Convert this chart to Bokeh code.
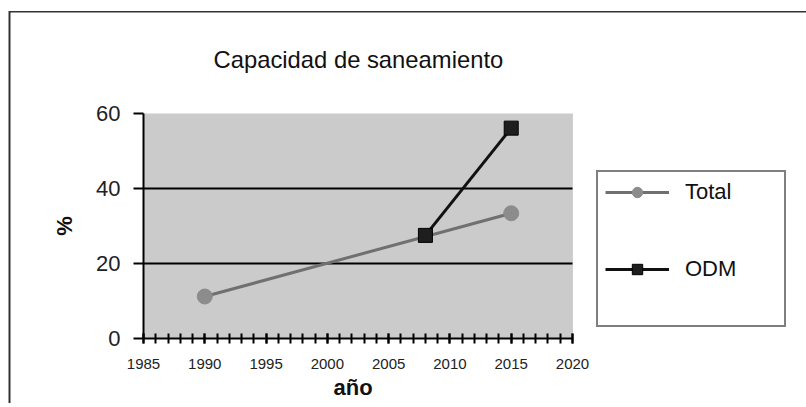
from bokeh.plotting import figure
from bokeh.models import Legend, LegendItem, FixedTicker, Range1d, BoxAnnotation, Title
from bokeh.embed import file_html
from bokeh.resources import INLINE

# ---- data ----
total_years = [1990, 2015]
total_vals = [11.2, 33.4]
odm_years = [2008, 2015]
odm_vals = [27.5, 56.1]
x_major_ticks = [1985, 1990, 1995, 2000, 2005, 2010, 2015, 2020]
x_minor_ticks = list(range(1985, 2021))
y_ticks = [0, 20, 40, 60]
grid_ticks = [20, 40]
title_text = "Capacidad de saneamiento"
x_label = "año"
y_label = "%"

FONT = "Liberation Sans"

X0, X1 = x_major_ticks[0], x_major_ticks[-1]
Y0, Y1 = y_ticks[0], y_ticks[-1]

# frame: 143..792 px wide; data area 1985..2020 occupies 143..572 px
FRAME_L, DATA_R, FRAME_R = 143, 572, 792
x_end = X0 + (FRAME_R - FRAME_L) * (X1 - X0) / (DATA_R - FRAME_L)

H = 403
p = figure(width=806, height=H,
           x_range=Range1d(X0, x_end), y_range=Range1d(Y0, Y1),
           output_backend="svg", toolbar_location=None,
           min_border_left=FRAME_L, min_border_right=806 - FRAME_R,
           min_border_top=113, min_border_bottom=H - 338)

p.background_fill_color = "white"
p.border_fill_alpha = 0
p.outline_line_color = None
# outer frame of the original picture (top and left edges only)
p.styles = {"box-shadow": "inset 8.5px 11px 0 0 #ffffff, inset 10.5px 12.5px 0 0 #333333",
            "background-color": "#ffffff"}

# gray plotting area
area = BoxAnnotation(left=X0, right=X1, bottom=Y0, top=Y1,
                     fill_color="#cbcbcb", fill_alpha=1,
                     line_color="#9a9a9a", line_width=1, level="underlay")
p.add_layout(area)

p.title.text = title_text
p.title.text_font = FONT
p.title.text_font_size = "23.8px"
p.title.text_font_style = "normal"
p.title.text_color = "#111111"
p.title.align = "left"
p.title.offset = 70
p.title.standoff = 82

# x axis
xa = p.xaxis[0]
xa.bounds = (X0, X1)
xa.ticker = FixedTicker(ticks=x_major_ticks, minor_ticks=x_minor_ticks)
xa.axis_line_width = 2
xa.axis_line_color = "black"
xa.major_tick_in = 5
xa.major_tick_out = 5
xa.minor_tick_in = 5
xa.minor_tick_out = 5
xa.major_tick_line_width = 2
xa.minor_tick_line_width = 2
xa.major_tick_line_color = "black"
xa.minor_tick_line_color = "black"
xa.major_label_text_font = FONT
xa.major_label_text_font_size = "15px"
xa.major_label_text_color = "#222222"
xa.major_label_standoff = 15

# x axis title, centred under the data area (not the whole frame)
x_title = Title(text=x_label, align="left", offset=190, standoff=3,
                text_font=FONT, text_font_size="22px", text_font_style="bold",
                text_color="#111111")
p.add_layout(x_title, "below")

# y axis
ya = p.yaxis[0]
ya.ticker = FixedTicker(ticks=y_ticks)
ya.axis_line_width = 2
ya.axis_line_color = "black"
ya.major_tick_in = 0
ya.major_tick_out = 10
ya.minor_tick_in = 0
ya.minor_tick_out = 0
ya.major_tick_line_width = 2
ya.major_tick_line_color = "black"
ya.major_label_text_font = FONT
ya.major_label_text_font_size = "22px"
ya.major_label_text_color = "#222222"
ya.major_label_standoff = 13
ya.axis_label = y_label
ya.axis_label_text_font = FONT
ya.axis_label_text_font_size = "22px"
ya.axis_label_text_font_style = "bold"
ya.axis_label_text_color = "#111111"
ya.axis_label_standoff = 16

p.xgrid.visible = False
p.ygrid.visible = False

# horizontal grid lines, only across the data area
p.segment(x0=[X0] * len(grid_ticks), x1=[X1] * len(grid_ticks),
          y0=grid_ticks, y1=grid_ticks, line_color="black", line_width=2)

# series
l1 = p.line(total_years, total_vals, line_color="#707070", line_width=3)
s1 = p.scatter(total_years, total_vals, marker="circle", size=15,
               fill_color="#8c8c8c", line_color="#8c8c8c")
l2 = p.line(odm_years, odm_vals, line_color="#111111", line_width=3)
s2 = p.scatter(odm_years, odm_vals, marker="square", size=14,
               fill_color="#1e1e1e", line_color="#000000")

legend_kw = dict(items=[LegendItem(label="Total", renderers=[l1, s1]),
                        LegendItem(label="ODM", renderers=[l2, s2])],
                 location=(453, 11), margin=0,
                 glyph_width=64, glyph_height=26, label_height=26,
                 spacing=51, padding=7, label_standoff=16, label_width=92,
                 label_text_font=FONT, label_text_font_size="22px",
                 label_text_color="#111111",
                 border_line_color="black", border_line_width=2,
                 background_fill_color="white", background_fill_alpha=1)
if "title_location" in Legend.properties():
    legend_kw.update(title="\u00a0", title_location="below",
                     title_text_font_size="20px", title_standoff=13)
legend = Legend(**legend_kw)
p.add_layout(legend)

open("out.html", "w").write(file_html(p, INLINE))
